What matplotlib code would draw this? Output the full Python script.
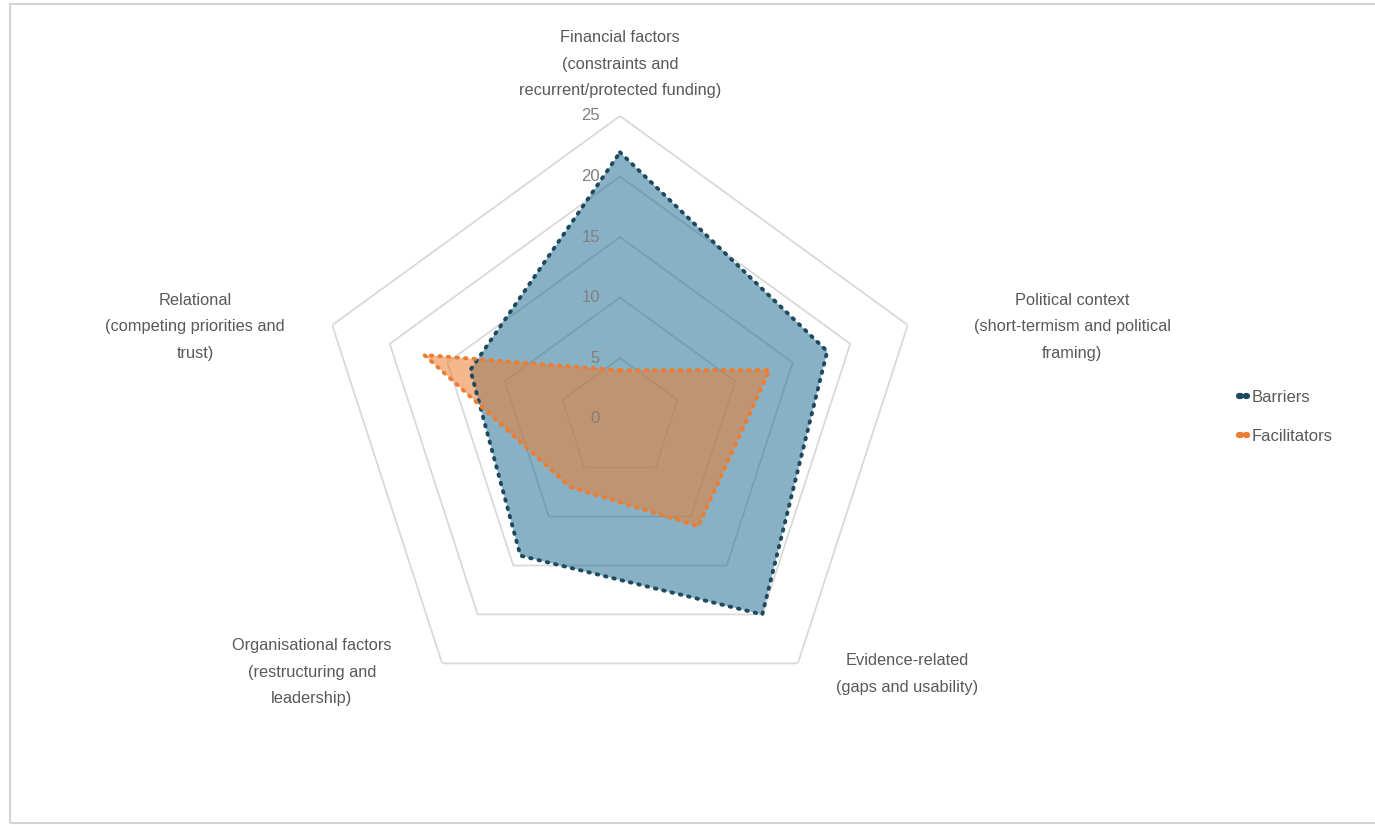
import numpy as np
import matplotlib
matplotlib.use("Agg")
import matplotlib.pyplot as plt
from matplotlib.lines import Line2D
from matplotlib.patches import Rectangle
from matplotlib.transforms import offset_copy

plt.rcParams['font.family'] = ['Liberation Sans', 'DejaVu Sans']

# data
categories = ["Financial factors\n(constraints and\nrecurrent/protected funding)",
              "Political context\n(short-termism and political\nframing)",
              "Evidence-related\n(gaps and usability)",
              "Organisational factors\n(restructuring and\nleadership)",
              "Relational\n(competing priorities and\ntrust)"]
barriers = [22, 18, 20, 14, 13]
facilitators = [4, 13, 11, 7, 17]
ring_values = [0, 5, 10, 15, 20, 25]

# label centres in pixels (x, y from top)
label_pos = [(620, 64), (1072, 327), (907, 674), (312, 672), (195, 327)]

W, H = 1375, 825
fig = plt.figure(figsize=(W / 100, H / 100), dpi=100)

# outer frame
fig.patches.append(Rectangle((10 / W, 2 / H), 1.2, 819 / H, transform=fig.transFigure,
                             fill=False, edgecolor='#d4d4d4', lw=1.5))

cx, cy, R = 620, 418.6, 302.6
ax = fig.add_axes([(cx - R) / W, (H - cy - R) / H, 2 * R / W, 2 * R / H], projection='polar')
ax.set_theta_offset(np.pi / 2)
ax.set_theta_direction(-1)
ax.set_ylim(0, 25)
ax.grid(False)
ax.set_xticks([])
ax.set_yticks([])
ax.spines['polar'].set_visible(False)
ax.patch.set_visible(False)

n = len(categories)
theta = np.linspace(0, 2 * np.pi, n, endpoint=False)
theta_c = np.append(theta, theta[0])

# pentagon rings
for r in ring_values[1:]:
    ax.plot(theta_c, [r] * (n + 1), color='#d9d9d9', lw=1.3, zorder=1)

dots = (0, (0.4, 1.8))
b = np.append(barriers, barriers[0])
f = np.append(facilitators, facilitators[0])
ax.fill(theta_c, b, color='#1e6a91', alpha=0.52, lw=0, zorder=2)
ax.plot(theta_c, b, color='#1d4a5e', lw=2.8, linestyle=dots, dash_capstyle='round', zorder=4)
ax.fill(theta_c, f, color='#ed7d31', alpha=0.55, lw=0, zorder=3)
ax.plot(theta_c, f, color='#ed7d31', lw=2.8, linestyle=dots, dash_capstyle='round', zorder=5)

# radial tick labels
tr = offset_copy(ax.transData, fig=fig, x=-20, y=0, units='dots')
for r in ring_values:
    ax.text(0, r, str(r), transform=tr, ha='right', va='center',
            fontsize=12, color='#7f7f7f', zorder=6)

# category labels
for lab, (px, py) in zip(categories, label_pos):
    fig.text(px / W, 1 - py / H, lab, ha='center', va='center', fontsize=11.8,
             color='#595959', linespacing=1.95)

# legend
handles = [Line2D([0], [0], color='#1d4a5e', lw=4.5, linestyle=(0, (0.3, 0.8)), dash_capstyle='round'),
           Line2D([0], [0], color='#ed7d31', lw=4.5, linestyle=(0, (0.3, 0.8)), dash_capstyle='round')]
fig.legend(handles, ["Barriers", "Facilitators"], loc='center left',
           bbox_to_anchor=(1224 / W, 1 - 417 / H), frameon=False, fontsize=12,
           handlelength=0.5, handletextpad=0.25, labelspacing=1.45,
           labelcolor='#595959')

fig.savefig("out.png", dpi=100, facecolor='white')
